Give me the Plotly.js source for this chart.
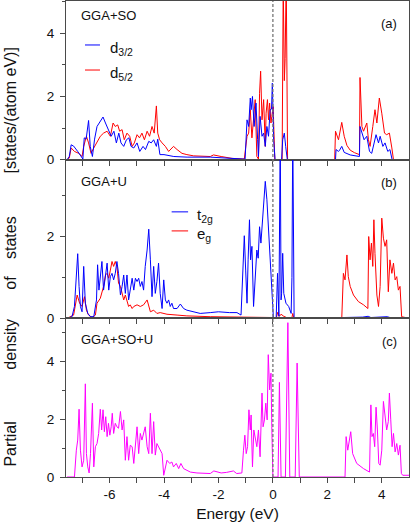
<!DOCTYPE html>
<html>
<head>
<meta charset="utf-8">
<script src="https://cdn.plot.ly/plotly-3.0.1.min.js"></script>
<style>
  html, body { margin: 0; padding: 0; background: #fff; }
  #chart { width: 411px; height: 523px; }
</style>
</head>
<body>
<div id="chart"></div>
<script>
// (a) GGA+SO : d3/2 (blue) and d5/2 (red)
var eA_d32 = [-7.56,-7.48,-7.41,-7.32,-7.17,-7.05,-6.98,-6.93,-6.86,-6.77,-6.71,-6.63,-6.55,-6.46,-6.34,-6.24,-6.15,-6.03,-5.94,-5.84,-5.75,-5.66,-5.58,-5.48,-5.38,-5.29,-5.21,-5.11,-4.99,-4.89,-4.77,-4.68,-4.56,-4.47,-4.38,-4.28,-4.23,-4.15,-4.0,-3.64,-3.15,-2.3,-2.0,-1.6,-1.1,-1.02,
  -0.95,-0.89,-0.83,-0.80,-0.75,-0.69,-0.62,-0.56,-0.53,-0.47,-0.40,-0.34,-0.28,-0.22,-0.16,-0.10,-0.05,-0.02,0.03,0.08,0.32,0.36,0.42,0.47,0.53,
  2.30,2.32,2.41,2.45,2.53,2.62,2.84,3.14,3.18,3.20,3.27,3.35,3.45,3.55,3.63,3.69,3.79,3.88,3.94,4.04,4.12,4.22,4.30,4.38,5.0];
var dA_d32 = [0,0.1,0.47,0.43,0.26,0.12,0.02,0.69,0.65,1.24,0.42,0.1,0.65,1.05,1.24,1.35,1.16,0.95,0.74,0.9,0.53,0.84,0.53,0.42,0.63,0.69,0.42,0.37,0.53,0.26,0.42,0.32,0.58,0.53,0.63,0.42,0.65,0.16,0.16,0.1,0.08,0.08,0.06,0.03,0.02,0.02,
  1.26,1.05,1.95,1.58,2.0,1.05,1.79,0.63,0.1,1.37,0.74,0.84,0.42,1.05,0.74,1.58,1.6,2.42,0.6,0,0,0.63,0.84,0.42,0,
  0,0.32,0.26,0.3,0.42,0.23,0.15,0.1,0.1,1.05,0.84,0.63,0.74,0.26,0.2,0.42,0.79,0.53,0.74,0.42,0.53,0.26,0.32,0,0];

var eA_d52 = [-7.56,-7.48,-7.41,-7.29,-7.13,-7.01,-6.95,-6.85,-6.77,-6.68,-6.58,-6.46,-6.34,-6.22,-6.09,-5.97,-5.87,-5.79,-5.70,-5.63,-5.54,-5.46,-5.36,-5.26,-5.17,-5.09,-4.99,-4.90,-4.81,-4.72,-4.62,-4.53,-4.44,-4.36,-4.28,-4.23,-4.16,-4.07,-3.95,-3.83,-3.65,-3.52,-3.34,-3.16,-2.91,-2.30,-2.18,-1.9,-1.5,-1.05,
  -0.95,-0.89,-0.83,-0.77,-0.71,-0.65,-0.59,-0.53,-0.49,-0.45,-0.40,-0.34,-0.28,-0.25,-0.20,-0.16,-0.12,-0.07,-0.04,0.01,0.07,0.34,0.38,0.42,0.45,0.49,0.54,
  2.27,2.30,2.41,2.53,2.62,2.72,2.84,3.0,3.14,3.18,3.20,3.27,3.33,3.45,3.51,3.57,3.67,3.75,3.82,3.91,4.0,4.1,4.18,4.28,4.37,4.43,5.0];
var dA_d52 = [0,0.05,0.37,0.26,0.2,0.1,0.42,0.74,0.53,0.2,0.37,0.58,0.74,0.84,0.9,0.74,1.16,1.05,1.1,0.9,0.95,0.63,0.84,0.74,0.42,0.53,0.79,0.69,0.84,0.63,0.9,0.74,1.05,0.84,1.7,0.84,0.63,0.53,0.42,0.26,0.42,0.32,0.2,0.16,0.12,0.1,0.15,0.1,0.04,0.02,
  0.74,0.84,1.58,0.69,1.26,1.9,0.1,0.02,2.1,2.8,1.26,1.9,0.42,1.47,1.9,1.26,1.79,1.16,1.37,1.68,0,0,5.6,2.5,3.2,5.8,0,
  0,0.9,0.63,1.18,0.74,0.45,0.3,0.22,0.16,0.16,2.6,1.05,0.9,1.16,0.63,0.42,1.05,1.58,1.16,1.95,1.47,0.84,0.79,0.84,0.37,0,0];

// (b) GGA+U : t2g (blue) and eg (red)
var eB_t2g = [-7.56,-7.38,-7.29,-7.17,-7.12,-7.07,-7.01,-6.95,-6.89,-6.80,-6.70,-6.58,-6.48,-6.44,-6.39,-6.34,-6.28,-6.22,-6.15,-6.09,-6.03,-5.97,-5.91,-5.85,-5.79,-5.73,-5.67,-5.60,-5.54,-5.48,-5.42,-5.36,-5.30,-5.24,-5.17,-5.11,-5.05,-4.99,-4.93,-4.87,-4.81,-4.75,-4.69,-4.62,-4.56,-4.50,-4.44,-4.38,-4.32,-4.26,-4.20,-4.14,-4.07,-4.01,-3.95,-3.89,-3.83,-3.77,-3.71,-3.65,-3.52,-3.40,-3.28,-3.16,-2.91,-2.67,-2.30,-2.0,-1.6,-1.32,-1.17,
  -1.11,-1.05,-1.0,-0.95,-0.91,-0.86,-0.82,-0.77,-0.71,-0.65,-0.59,-0.54,-0.49,-0.44,-0.39,-0.34,-0.28,-0.22,-0.18,-0.12,-0.07,-0.03,0.02,0.12,0.17,0.22,0.27,0.30,0.32,0.36,0.40,0.48,0.58,0.67,0.70,0.73,0.78,
  2.5,2.6,3.3,3.5,3.6,4.2,4.3,4.75,5.0];
var dB_t2g = [0,0.04,0.29,1.58,0.78,0.29,0.16,1.27,0.37,0.12,0.04,0.04,0.45,1.31,0.69,1.1,1.39,0.69,1.1,1.35,0.69,1.02,1.1,0.94,1.1,1.39,1.1,0.57,0.78,1.06,0.61,1.06,0.45,0.73,0.98,0.69,0.98,0.9,0.98,0.78,0.9,0.69,1.27,1.67,2.18,1.43,0.53,1.27,0.61,0.9,1.35,0.61,0.24,0.94,0.45,0.37,0.45,0.29,0.37,0.24,0.24,0.35,0.24,0.2,0.16,0.12,0.14,0.16,0.14,0.14,0.08,
  1.02,2.02,1.18,0.37,1.43,2.41,1.43,1.76,0.29,0.94,1.67,1.47,2.24,1.84,2.29,2.82,3.35,2.9,2.41,1.84,1.27,0.78,0,0,1.1,0.05,4.6,0.45,0.6,1.59,0.61,0.37,0.29,0.12,1.0,4.6,0,
  0,0.02,0.03,0.05,0.02,0.04,0.02,0.01,0];

var eB_eg = [-7.56,-7.32,-7.19,-7.10,-7.01,-6.92,-6.85,-6.77,-6.64,-6.52,-6.46,-6.34,-6.22,-6.15,-6.09,-6.03,-5.97,-5.91,-5.85,-5.79,-5.73,-5.67,-5.60,-5.54,-5.48,-5.42,-5.36,-5.30,-5.24,-5.17,-5.11,-4.99,-4.87,-4.75,-4.62,-4.56,-4.50,-4.38,-4.26,-4.14,-3.89,-3.52,-3.16,-2.30,-1.5,-0.5,0.0,0.12,0.18,0.24,0.3,0.4,0.5,0.7,0.73,0.77,
  2.53,2.59,2.65,2.72,2.77,2.84,2.96,3.14,3.33,3.49,3.52,3.57,3.62,3.67,3.71,3.75,3.82,3.88,3.94,4.0,4.06,4.12,4.18,4.24,4.30,4.37,4.43,4.49,4.55,4.61,4.67,4.73,5.0];
var dB_eg = [0,0.08,0.57,0.37,0.29,0.53,0.2,0.08,0.02,0.08,0.37,0.49,0.78,1.06,1.1,0.98,1.18,1.39,1.27,1.39,1.27,0.86,0.78,0.61,0.45,0.57,0.41,0.29,0.33,0.24,0.29,0.33,0.29,0.33,0.45,0.33,0.16,0.2,0.12,0.14,0.1,0.08,0.06,0.04,0.03,0.03,0.02,0,0.15,0.05,0.1,0.05,0.02,0.02,0.12,0,
  0,1.1,0.94,1.55,1.02,0.78,0.57,0.41,0.33,0.24,2.0,1.43,1.84,1.27,2.41,1.59,0.57,0.29,0.78,2.45,1.96,1.76,1.92,0.65,1.43,1.1,1.35,0.94,1.02,0.69,0.78,0.04,0];

// (c) GGA+SO+U : total d (magenta)
var eC = [-7.56,-7.29,-7.22,-7.17,-7.12,-7.07,-7.01,-6.95,-6.89,-6.85,-6.80,-6.75,-6.70,-6.63,-6.58,-6.52,-6.46,-6.40,-6.34,-6.29,-6.24,-6.19,-6.14,-6.09,-6.04,-5.99,-5.94,-5.90,-5.85,-5.79,-5.73,-5.67,-5.60,-5.54,-5.48,-5.42,-5.36,-5.30,-5.24,-5.17,-5.11,-5.05,-4.99,-4.93,-4.87,-4.81,-4.75,-4.69,-4.62,-4.56,-4.50,-4.44,-4.38,-4.32,-4.26,-4.20,-4.14,-4.07,-4.01,-3.95,-3.89,-3.79,-3.71,-3.65,-3.55,-3.46,-3.38,-3.28,-3.16,-3.03,-2.79,-2.30,-2.17,-1.9,-1.7,-1.45,-1.33,-1.14,
  -1.08,-1.03,-0.98,-0.93,-0.88,-0.83,-0.80,-0.75,-0.70,-0.65,-0.59,-0.53,-0.47,-0.40,-0.36,-0.31,-0.26,-0.21,-0.17,-0.12,-0.07,-0.04,0.0,0.19,0.24,0.30,0.46,0.55,0.62,0.82,0.89,0.97,
  2.65,2.69,2.75,2.86,2.93,3.08,3.33,3.55,3.60,3.64,3.69,3.74,3.79,3.84,3.89,3.94,4.0,4.06,4.12,4.18,4.24,4.28,4.33,4.38,4.43,4.49,4.55,4.61,4.67,4.72,4.77,5.0];
var dC = [0,0,0.93,1.28,2.35,0.93,0.35,0.58,3.23,0.81,0.35,0.14,0.81,2.56,0.35,1.05,1.16,1.51,2.35,1.63,2.33,1.57,2.09,1.4,1.86,1.45,1.74,2.21,1.51,1.86,1.74,1.69,2.27,1.63,1.98,0.58,1.4,0.58,1.1,1.05,0.47,1.16,1.74,0.81,1.51,1.28,1.51,1.74,1.05,0.81,2.21,0.81,1.92,0.76,1.16,1.05,0.93,0.81,0.06,0.35,0.58,0.47,0.52,0.35,0.47,0.29,0.47,0.29,0.23,0.17,0.14,0.12,0.21,0.14,0.16,0.21,0.12,0.14,
  0.93,1.45,0.81,1.05,2.33,1.63,2.15,0.35,1.63,1.4,1.05,1.63,0.7,2.91,1.74,1.98,2.56,1.98,4.24,3.02,3.6,1.74,0,0,3.28,0,0,5.35,0,0,3.95,0,
  0,1.4,0.93,1.57,0.81,0.47,0.29,0.17,2.5,1.4,1.51,1.05,2.42,1.63,0.47,0.41,0.93,2.62,1.98,1.63,1.92,2.91,1.98,1.05,1.51,0.87,1.16,0.76,1.1,0.12,0.06,0.06];

var xTickVals = [-7,-6,-5,-4,-3,-2,-1,0,1,2,3,4];
var xTickText = ['','-6','','-4','','-2','','0','','2','','4'];

var cBlue = '#0000ff', cRed = '#ff0000', cMag = '#ff00ff';
var cAxis = '#4a4a4a';
var fontFam = 'Liberation Sans, Arial, Helvetica, sans-serif';

function line(x, y, color, xa, ya, name) {
  return {x: x, y: y, type: 'scatter', mode: 'lines', name: name,
          line: {color: color, width: 1}, xaxis: xa, yaxis: ya, hoverinfo: 'skip'};
}

var data = [
  line(eA_d52, dA_d52, cRed, 'x', 'y', 'd5/2'),
  line(eA_d32, dA_d32, cBlue, 'x', 'y', 'd3/2'),
  line(eB_eg, dB_eg, cRed, 'x2', 'y2', 'eg'),
  line(eB_t2g, dB_t2g, cBlue, 'x2', 'y2', 't2g'),
  line(eC, dC, cMag, 'x3', 'y3', 'd')
];

function xAxis(anchor, labels) {
  return {anchor: anchor, range: [-7.6, 5.0], tickmode: 'array', tickvals: xTickVals, ticktext: xTickText,
          showticklabels: labels, ticks: 'outside', ticklen: 5, tickcolor: cAxis,
          showline: true, mirror: true, linecolor: cAxis, linewidth: 1,
          showgrid: false, zeroline: false, tickfont: {size: 13.5, color: '#111'}};
}
function yAxis(domain, top) {
  return {domain: domain, range: [0, top], tick0: 0, dtick: 2, ticks: 'outside', ticklen: 5, tickcolor: cAxis,
          minor: {dtick: 1, tick0: 0, ticks: 'outside', ticklen: 3, tickcolor: cAxis, showgrid: false},
          showline: true, mirror: true, linecolor: cAxis, linewidth: 1, ticklabelstandoff: 3,
          showgrid: false, zeroline: false, tickfont: {size: 13.5, color: '#111'}};
}

var xa3 = xAxis('y3', true);
xa3.title = {text: 'Energy (eV)', font: {size: 15.5, color: '#111'}, standoff: 6};

function txt(x, y, s, size, anchor) {
  return {xref: 'paper', yref: 'paper', x: x, y: y, text: s, showarrow: false,
          xanchor: anchor || 'left', yanchor: 'middle', font: {size: size, color: '#111'}};
}
function ytxt(y, s) {
  return {xref: 'paper', yref: 'paper', x: -0.162, y: y, text: s, showarrow: false, textangle: -90,
          xanchor: 'center', yanchor: 'middle', font: {size: 16, color: '#111'}};
}
function key(x0, x1, y, color) {
  return {type: 'line', xref: 'paper', yref: 'paper', x0: x0, x1: x1, y0: y, y1: y,
          line: {color: color, width: 1}};
}

var layout = {
  width: 411, height: 523,
  margin: {l: 66, r: 2, t: 1, b: 46},
  paper_bgcolor: '#fff', plot_bgcolor: '#fff',
  font: {family: fontFam, size: 13.5, color: '#111'},
  showlegend: false,
  xaxis: xAxis('y', false),
  yaxis: yAxis([2/3, 1], 5.02),
  xaxis2: xAxis('y2', false),
  yaxis2: yAxis([1/3, 2/3], 3.88),
  xaxis3: xa3,
  yaxis3: yAxis([0, 1/3], 5.5),
  shapes: [
    {type: 'line', xref: 'x', yref: 'paper', x0: 0, x1: 0, y0: 0, y1: 1,
     line: {color: '#777', width: 1.3, dash: '3px,2px'}},
    key(0.0554, 0.0991, 0.9076, cBlue),
    key(0.0554, 0.0991, 0.855, cRed),
    key(0.308, 0.356, 0.557, cBlue),
    key(0.308, 0.356, 0.517, cRed)
  ],
  annotations: [
    txt(0.039, 0.970, 'GGA+SO', 13),
    txt(0.971, 0.952, '(a)', 13, 'right'),
    txt(0.039, 0.620, 'GGA+U', 13),
    txt(0.971, 0.618, '(b)', 13, 'right'),
    txt(0.039, 0.288, 'GGA+SO+U', 13),
    txt(0.971, 0.284, '(c)', 13, 'right'),
    txt(0.1224, 0.900, 'd<sub>3/2</sub>', 15),
    txt(0.1224, 0.848, 'd<sub>5/2</sub>', 15),
    txt(0.376, 0.550, 't<sub>2g</sub>', 15),
    txt(0.376, 0.510, 'e<sub>g</sub>', 15),
    ytxt(0.069, 'Partial'),
    ytxt(0.279, 'density'),
    ytxt(0.409, 'of'),
    ytxt(0.503, 'states'),
    ytxt(0.771, '[states/(atom eV)]')
  ]
};

Plotly.newPlot('chart', data, layout, {displayModeBar: false, staticPlot: true});
</script>
</body>
</html>
